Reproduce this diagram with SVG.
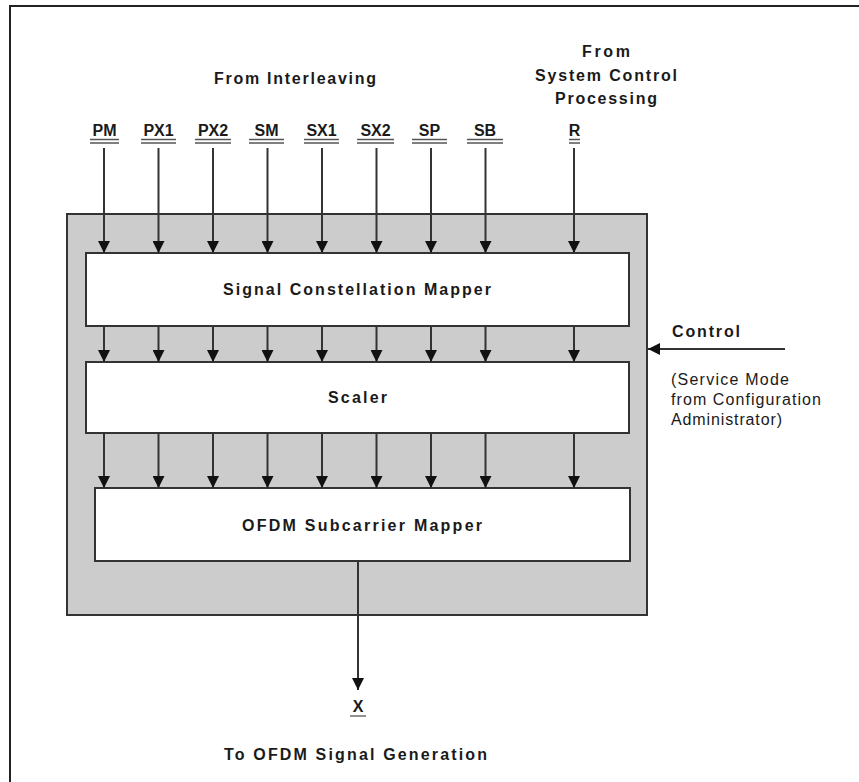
<svg xmlns="http://www.w3.org/2000/svg" width="859" height="782" viewBox="0 0 859 782">
<defs>
<marker id="ah" markerUnits="userSpaceOnUse" markerWidth="13" markerHeight="12" refX="12" refY="6" orient="auto" viewBox="0 0 13 12">
<path d="M0,0 L12,6 L0,12 Z" fill="#111"/>
</marker>
</defs>
<style>
.t{font-family:"Liberation Sans",Arial,sans-serif;font-size:16px;fill:#1a1a1a}
.b{font-weight:bold}
.box{fill:#fff;stroke:#333;stroke-width:2}
.ln{stroke:#333;stroke-width:2;fill:none}
.ul{stroke:#555;stroke-width:1.3}
</style>
<rect width="859" height="782" fill="#fff"/>
<path d="M10,782 L10,6 L859,6" fill="none" stroke="#222" stroke-width="2"/>

<g id="outer">
<rect x="67" y="214" width="580" height="401" fill="#cccccc" stroke="#333" stroke-width="2"/>
</g>

<g id="mapper">
<rect class="box" x="86" y="253" width="543" height="73"/>
<text class="t b" x="223" y="295" textLength="268" lengthAdjust="spacing">Signal Constellation Mapper</text>
</g>
<g id="scaler">
<rect class="box" x="86" y="362" width="543" height="71"/>
<text class="t b" x="328" y="403" textLength="59" lengthAdjust="spacing">Scaler</text>
</g>
<g id="ofdm">
<rect class="box" x="95" y="488" width="535" height="73"/>
<text class="t b" x="242" y="531" textLength="240" lengthAdjust="spacing">OFDM Subcarrier Mapper</text>
</g>

<g id="labels">
<text class="t b" x="214" y="84" textLength="162" lengthAdjust="spacing">From Interleaving</text>
<text class="t b" x="582" y="57" textLength="48" lengthAdjust="spacing">From</text>
<text class="t b" x="535" y="81" textLength="142" lengthAdjust="spacing">System Control</text>
<text class="t b" x="555" y="104" textLength="102" lengthAdjust="spacing">Processing</text>
<g class="t b" text-anchor="middle">
<text x="104.5" y="136">PM</text>
<text x="158.5" y="136">PX1</text>
<text x="213" y="136">PX2</text>
<text x="266.5" y="136">SM</text>
<text x="321.5" y="136">SX1</text>
<text x="375.5" y="136">SX2</text>
<text x="429.5" y="136">SP</text>
<text x="485" y="136">SB</text>
<text x="574.5" y="136">R</text>
</g>
<g class="ul">
<path d="M90,139.5 H119 M90,143 H119"/>
<path d="M141,139.5 H176 M141,143 H176"/>
<path d="M195,139.5 H231 M195,143 H231"/>
<path d="M249,139.5 H284 M249,143 H284"/>
<path d="M304,139.5 H339 M304,143 H339"/>
<path d="M357,139.5 H394 M357,143 H394"/>
<path d="M412,139.5 H447 M412,143 H447"/>
<path d="M467,139.5 H503 M467,143 H503"/>
<path d="M569,139.5 H580 M569,143 H580"/>
</g>
<text class="t b" x="672" y="337" textLength="68" lengthAdjust="spacing">Control</text>
<text class="t" x="671" y="385" textLength="118" lengthAdjust="spacing">(Service Mode</text>
<text class="t" x="671" y="405" textLength="150" lengthAdjust="spacing">from Configuration</text>
<text class="t" x="671" y="425" textLength="111" lengthAdjust="spacing">Administrator)</text>
<text class="t b" x="358" y="712" text-anchor="middle">X</text>
<path class="ul" d="M350,716 H366"/>
<text class="t b" x="224" y="760" textLength="263" lengthAdjust="spacing">To OFDM Signal Generation</text>
</g>

<g id="connectors" class="ln" marker-end="url(#ah)">
<path d="M104,148 V253"/><path d="M158.5,148 V253"/><path d="M213,148 V253"/><path d="M267.5,148 V253"/><path d="M322,148 V253"/><path d="M376.5,148 V253"/><path d="M431,148 V253"/><path d="M485.5,148 V253"/><path d="M574,148 V253"/>
<path d="M104,326 V362"/><path d="M158.5,326 V362"/><path d="M213,326 V362"/><path d="M267.5,326 V362"/><path d="M322,326 V362"/><path d="M376.5,326 V362"/><path d="M431,326 V362"/><path d="M485.5,326 V362"/><path d="M574,326 V362"/>
<path d="M104,433 V488"/><path d="M158.5,433 V488"/><path d="M213,433 V488"/><path d="M267.5,433 V488"/><path d="M322,433 V488"/><path d="M376.5,433 V488"/><path d="M431,433 V488"/><path d="M485.5,433 V488"/><path d="M574,433 V488"/>
<path d="M358,561 V690"/>
<path d="M785,349 H648"/>
</g>
</svg>
